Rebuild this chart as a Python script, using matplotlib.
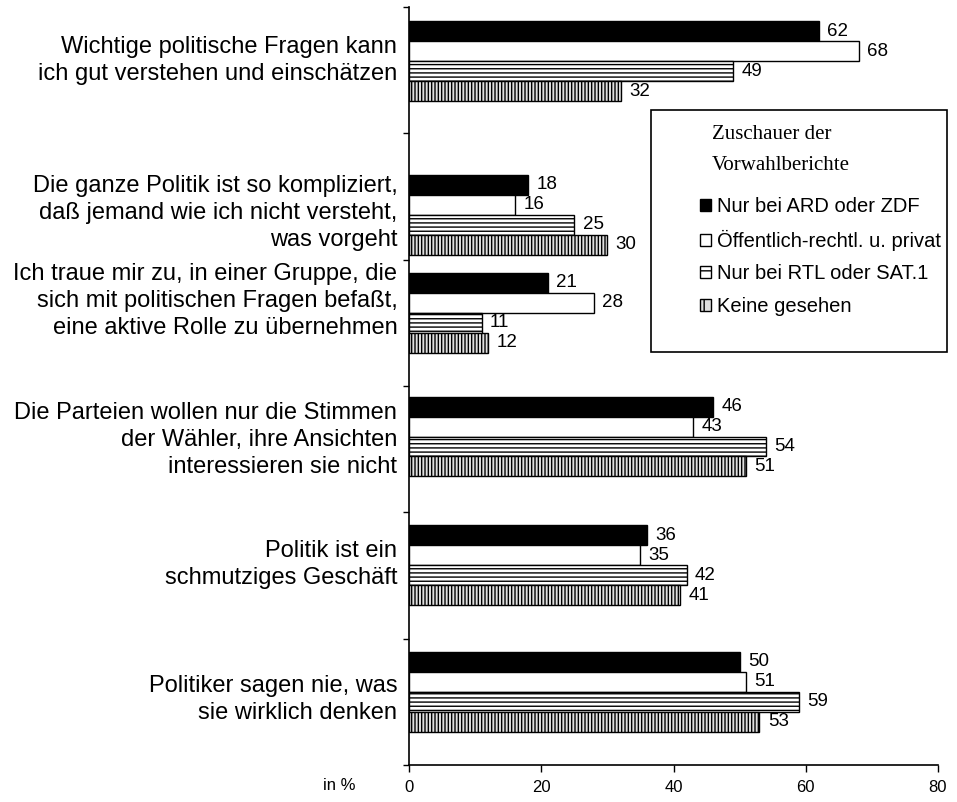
import matplotlib
matplotlib.use("Agg")
import matplotlib.pyplot as plt
from matplotlib.patches import Patch, Rectangle
import numpy as np

plt.rcParams['font.family'] = ['Liberation Sans', 'DejaVu Sans']
plt.rcParams['hatch.linewidth'] = 1.0

categories = [
    "Wichtige politische Fragen kann\nich gut verstehen und einschätzen",
    "Die ganze Politik ist so kompliziert,\ndaß jemand wie ich nicht versteht,\nwas vorgeht",
    "Ich traue mir zu, in einer Gruppe, die\nsich mit politischen Fragen befaßt,\neine aktive Rolle zu übernehmen",
    "Die Parteien wollen nur die Stimmen\nder Wähler, ihre Ansichten\ninteressieren sie nicht",
    "Politik ist ein\nschmutziges Geschäft",
    "Politiker sagen nie, was\nsie wirklich denken",
]
series_names = [
    "Nur bei ARD oder ZDF",
    "Öffentlich-rechtl. u. privat",
    "Nur bei RTL oder SAT.1",
    "Keine gesehen",
]
ard_zdf = [62, 18, 21, 46, 36, 50]
oeff_privat = [68, 16, 28, 43, 35, 51]
rtl_sat1 = [49, 25, 11, 54, 42, 59]
keine = [32, 30, 12, 51, 41, 53]
values = [ard_zdf, oeff_privat, rtl_sat1, keine]
xticks = [0, 20, 40, 60, 80]
legend_title = "Zuschauer der\nVorwahlberichte"
x_unit = "in %"

# layout (position of each bar group / label block inside its category band)
group_shift = [-0.07, 0.145, -0.08, -0.1, -0.08, -0.08]
label_shift = [-0.08, 0.13, -0.17, -0.07, -0.09, -0.02]

styles = [
    dict(facecolor="black", hatch=None),
    dict(facecolor="white", hatch=None),
    dict(facecolor="white", hatch="----"),
    dict(facecolor="#e0e0e0", hatch="|||||"),
]

fig = plt.figure(figsize=(9.57, 8.02), dpi=100)
ax = fig.add_axes([409/957, 1-765/802, (938-409)/957, (765-7)/802])

n = len(categories)
bar_h = 0.158
centers = np.arange(n) + 0.5 + np.array(group_shift)
label_y = np.arange(n) + 0.5 + np.array(label_shift)

for k, (vals, st) in enumerate(zip(values, styles)):
    ypos = centers + (k - 1.5) * bar_h
    bars = ax.barh(ypos, vals, height=bar_h, facecolor=st["facecolor"],
                   edgecolor="black", hatch=st["hatch"], linewidth=1.0)
    for b, v in zip(bars, vals):
        ax.annotate(str(v), (v, b.get_y() + b.get_height()/2),
                    xytext=(6, 0), textcoords="offset points",
                    ha="left", va="center", fontsize=13.5)

ax.set_xlim(0, 80)
ax.set_ylim(n, 0)
ax.set_xticks(xticks)
ax.set_xticklabels([str(t) for t in xticks], fontsize=12)
ax.set_yticks(np.arange(n + 1))
ax.set_yticklabels([])
ax.tick_params(axis="x", direction="out", length=5, width=1, pad=6)
ax.tick_params(axis="y", direction="out", length=4, width=1)
for s in ["top", "right"]:
    ax.spines[s].set_visible(False)
for s in ["left", "bottom"]:
    ax.spines[s].set_linewidth(1.2)

for c, lab in zip(label_y, categories):
    ax.text(-0.022, c, lab, transform=ax.get_yaxis_transform(),
            ha="right", va="center", fontsize=17, linespacing=1.3)

fig.text(339/957, 1-785/802, x_unit, ha="center", va="center", fontsize=12)

# legend box
fig.patches.append(Rectangle((651/957, 1-352/802), (947-651)/957, (352-110)/802,
                             transform=fig.transFigure, fill=False,
                             edgecolor="black", linewidth=1.2))
fig.text(712/957, 1-150/802, legend_title, ha="left", va="center",
         family="Liberation Serif", fontsize=15, linespacing=1.8)
handles = [Patch(facecolor=st["facecolor"], edgecolor="black",
                 hatch=(st["hatch"][:2] if st["hatch"] else None))
           for st in styles]
leg = fig.legend(handles, series_names, loc="upper left",
                 bbox_to_anchor=(700/957, 1-197/802), frameon=False,
                 fontsize=14.5, handlelength=0.55, handleheight=0.55,
                 handletextpad=0.3, labelspacing=0.68, borderpad=0,
                 borderaxespad=0)

fig.savefig("out.png", dpi=100)
